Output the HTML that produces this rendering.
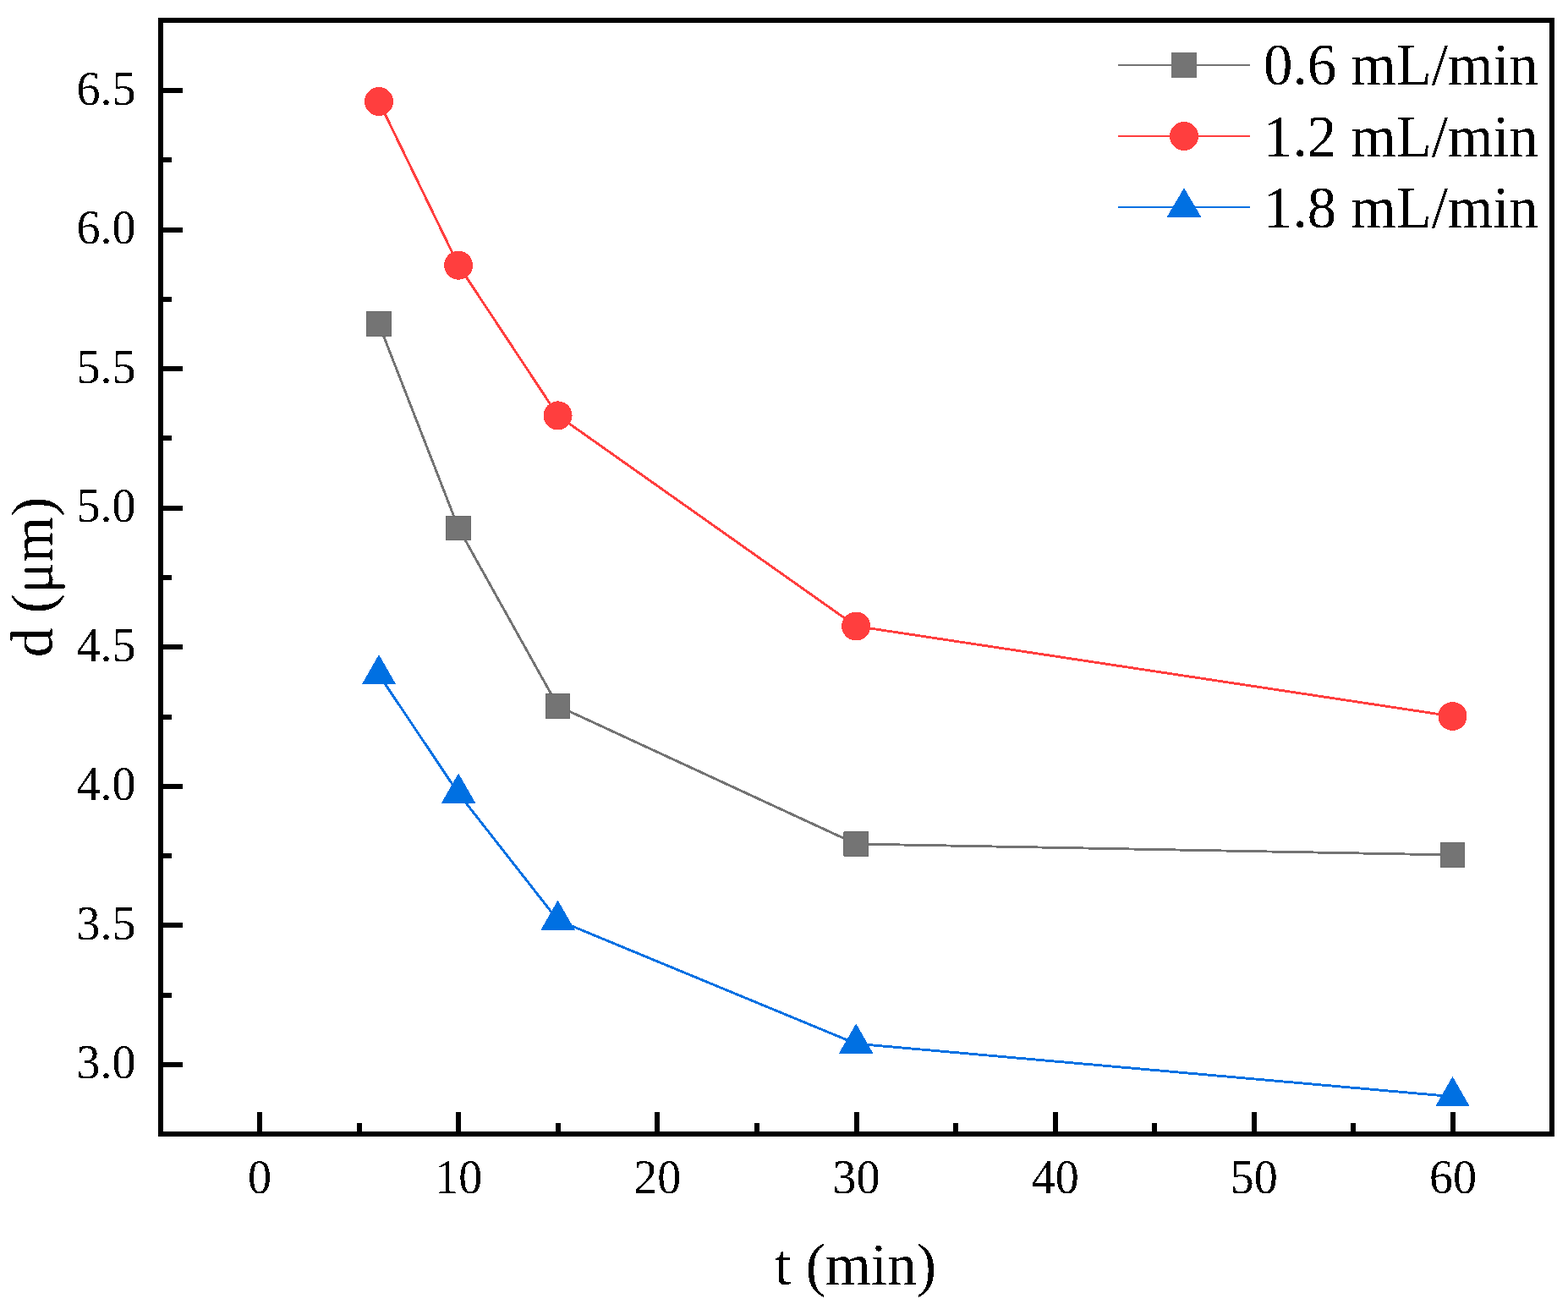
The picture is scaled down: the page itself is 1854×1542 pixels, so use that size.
<!DOCTYPE html><html><head><meta charset="utf-8"><title>d vs t</title><style>
html,body{margin:0;padding:0;background:#fff;}body{width:1854px;height:1542px;overflow:hidden;}
svg{position:absolute;left:0;top:0;display:block;}polyline,circle,polygon,rect{shape-rendering:crispEdges;}
text{filter:url(#alias);font-family:"Liberation Serif","Times New Roman",serif;fill:#000;}
</style></head><body>
<svg width="1854" height="1542" viewBox="0 0 1854 1542">
<defs><filter id="alias" x="-0.1" y="-0.2" width="1.2" height="1.4"><feComponentTransfer><feFuncA type="discrete" tableValues="0 1"/></feComponentTransfer></filter></defs>
<rect x="0" y="0" width="1854" height="1542" fill="#fff"/>
<polyline points="448.0,383.0 542.1,624.4 659.6,834.9 1012.2,998.0 1717.5,1011.0" fill="none" stroke="#737373" stroke-width="2.9" stroke-linejoin="round"/>
<polyline points="448.0,120.0 542.1,313.7 659.6,491.4 1012.2,740.5 1717.5,847.0" fill="none" stroke="#FF3E3E" stroke-width="2.9" stroke-linejoin="round"/>
<polyline points="448.0,797.8 542.1,938.2 659.6,1088.2 1012.2,1234.2 1717.5,1296.7" fill="none" stroke="#0070E2" stroke-width="2.9" stroke-linejoin="round"/>
<rect x="433.70" y="368.70" width="28.6" height="28.6" rx="0.4" fill="#747474" stroke="#6a6a6a" stroke-width="1"/>
<rect x="527.80" y="610.10" width="28.6" height="28.6" rx="0.4" fill="#747474" stroke="#6a6a6a" stroke-width="1"/>
<rect x="645.30" y="820.60" width="28.6" height="28.6" rx="0.4" fill="#747474" stroke="#6a6a6a" stroke-width="1"/>
<rect x="997.90" y="983.70" width="28.6" height="28.6" rx="0.4" fill="#747474" stroke="#6a6a6a" stroke-width="1"/>
<rect x="1703.20" y="996.70" width="28.6" height="28.6" rx="0.4" fill="#747474" stroke="#6a6a6a" stroke-width="1"/>
<circle cx="448.00" cy="120.00" r="17.0" fill="#FF3E3E"/>
<circle cx="542.10" cy="313.70" r="17.0" fill="#FF3E3E"/>
<circle cx="659.60" cy="491.40" r="17.0" fill="#FF3E3E"/>
<circle cx="1012.20" cy="740.50" r="17.0" fill="#FF3E3E"/>
<circle cx="1717.50" cy="847.00" r="17.0" fill="#FF3E3E"/>
<polygon points="448.00,774.10 468.30,809.45 427.70,809.45" fill="#0070E2"/>
<polygon points="542.10,914.50 562.40,949.85 521.80,949.85" fill="#0070E2"/>
<polygon points="659.60,1064.55 679.90,1099.90 639.30,1099.90" fill="#0070E2"/>
<polygon points="1012.20,1210.45 1032.50,1245.80 991.90,1245.80" fill="#0070E2"/>
<polygon points="1717.50,1272.95 1737.80,1308.30 1697.20,1308.30" fill="#0070E2"/>
<rect x="190" y="24" width="1645" height="1317" fill="none" stroke="#000" stroke-width="6"/>
<rect x="304.00" y="1315" width="6" height="26" fill="#000"/>
<text x="307.00" y="1411.1" font-size="56" text-anchor="middle">0</text>
<rect x="421.58" y="1328" width="6" height="13" fill="#000"/>
<rect x="539.17" y="1315" width="6" height="26" fill="#000"/>
<text x="542.17" y="1411.1" font-size="56" text-anchor="middle">10</text>
<rect x="656.75" y="1328" width="6" height="13" fill="#000"/>
<rect x="774.33" y="1315" width="6" height="26" fill="#000"/>
<text x="777.33" y="1411.1" font-size="56" text-anchor="middle">20</text>
<rect x="891.92" y="1328" width="6" height="13" fill="#000"/>
<rect x="1009.50" y="1315" width="6" height="26" fill="#000"/>
<text x="1012.50" y="1411.1" font-size="56" text-anchor="middle">30</text>
<rect x="1127.08" y="1328" width="6" height="13" fill="#000"/>
<rect x="1244.67" y="1315" width="6" height="26" fill="#000"/>
<text x="1247.67" y="1411.1" font-size="56" text-anchor="middle">40</text>
<rect x="1362.25" y="1328" width="6" height="13" fill="#000"/>
<rect x="1479.84" y="1315" width="6" height="26" fill="#000"/>
<text x="1482.84" y="1411.1" font-size="56" text-anchor="middle">50</text>
<rect x="1597.42" y="1328" width="6" height="13" fill="#000"/>
<rect x="1715.00" y="1315" width="6" height="26" fill="#000"/>
<text x="1718.00" y="1411.1" font-size="56" text-anchor="middle">60</text>
<rect x="190" y="1255.99" width="26" height="6" fill="#000"/>
<text x="160.5" y="1275.49" font-size="56" text-anchor="end">3.0</text>
<rect x="190" y="1173.70" width="13" height="6" fill="#000"/>
<rect x="190" y="1091.42" width="26" height="6" fill="#000"/>
<text x="160.5" y="1110.92" font-size="56" text-anchor="end">3.5</text>
<rect x="190" y="1009.13" width="13" height="6" fill="#000"/>
<rect x="190" y="926.85" width="26" height="6" fill="#000"/>
<text x="160.5" y="946.35" font-size="56" text-anchor="end">4.0</text>
<rect x="190" y="844.56" width="13" height="6" fill="#000"/>
<rect x="190" y="762.28" width="26" height="6" fill="#000"/>
<text x="160.5" y="781.78" font-size="56" text-anchor="end">4.5</text>
<rect x="190" y="680.00" width="13" height="6" fill="#000"/>
<rect x="190" y="597.71" width="26" height="6" fill="#000"/>
<text x="160.5" y="617.21" font-size="56" text-anchor="end">5.0</text>
<rect x="190" y="515.42" width="13" height="6" fill="#000"/>
<rect x="190" y="433.14" width="26" height="6" fill="#000"/>
<text x="160.5" y="452.64" font-size="56" text-anchor="end">5.5</text>
<rect x="190" y="350.86" width="13" height="6" fill="#000"/>
<rect x="190" y="268.57" width="26" height="6" fill="#000"/>
<text x="160.5" y="288.07" font-size="56" text-anchor="end">6.0</text>
<rect x="190" y="186.28" width="13" height="6" fill="#000"/>
<rect x="190" y="104.00" width="26" height="6" fill="#000"/>
<text x="160.5" y="123.50" font-size="56" text-anchor="end">6.5</text>
<text x="1011.5" y="1519" font-size="69.5" text-anchor="middle">t (min)</text>
<text transform="translate(61.5,682.5) rotate(-90)" x="0" y="0" font-size="69.5" text-anchor="middle">d (μm)</text>
<rect x="1322" y="76.0" width="156" height="2" fill="#737373"/>
<rect x="1385" y="62.0" width="30" height="30" fill="#747474"/>
<text x="1494.1" y="100.0" font-size="68.8">0.6 mL/min</text>
<rect x="1322" y="160.0" width="156" height="2" fill="#FF3E3E"/>
<circle cx="1400.00" cy="161.00" r="17.0" fill="#FF3E3E"/>
<text x="1494.1" y="185.0" font-size="68.8">1.2 mL/min</text>
<rect x="1322" y="244.0" width="156" height="2" fill="#0070E2"/>
<polygon points="1400,222.2 1420.3,256.6 1379.7,256.6" fill="#0070E2"/>
<text x="1494.1" y="269.1" font-size="68.8">1.8 mL/min</text>
</svg></body></html>
